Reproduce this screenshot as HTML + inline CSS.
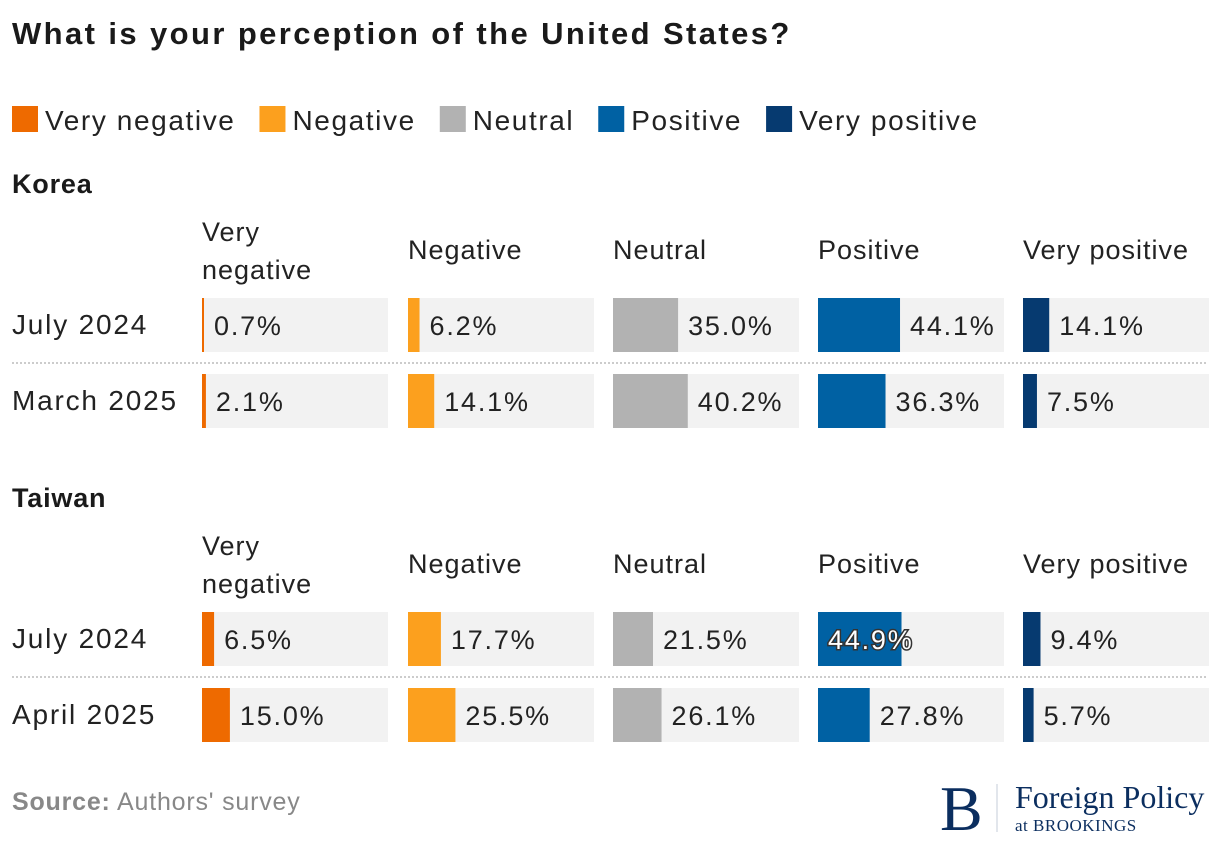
<!DOCTYPE html>
<html><head><meta charset="utf-8"><style>
body{margin:0;background:#fff;}
svg{display:block;font-family:"Liberation Sans",sans-serif;}
</style></head><body>
<svg id="chart" width="1220" height="842" viewBox="0 0 1220 842">
<text x="12" y="44" font-size="31" font-weight="bold" letter-spacing="2.4" fill="#1a1a1a">What is your perception of the United States?</text>
<g id="legend"></g>
<g id="plot"></g>
<text x="12" y="810" font-size="25" letter-spacing="0.8" fill="#888"><tspan font-weight="bold">Source:</tspan> Authors' survey</text>
<g>
<text x="940" y="830" font-family="Liberation Serif,serif" font-size="64" fill="#0b2e5f">B</text>
<line x1="997" y1="784" x2="997" y2="832" stroke="#c5ccd8" stroke-width="1"/>
<text x="1015" y="808" font-family="Liberation Serif,serif" font-size="32" fill="#0b2e5f">Foreign Policy</text>
<text x="1015" y="831" font-family="Liberation Serif,serif" font-size="17" letter-spacing="0.5" fill="#0b2e5f">at BROOKINGS</text>
</g>
</svg>
<script>
const categories=["Very negative","Negative","Neutral","Positive","Very positive"];
const colors=["#ee6a00","#fca01e","#b2b2b2","#0061a3","#063a70"];
const koreaRows=["July 2024","March 2025"];
const koreaValues=[[0.7,6.2,35.0,44.1,14.1],[2.1,14.1,40.2,36.3,7.5]];
const taiwanRows=["July 2024","April 2025"];
const taiwanValues=[[6.5,17.7,21.5,44.9,9.4],[15.0,25.5,26.1,27.8,5.7]];

const NS="http://www.w3.org/2000/svg";
const plot=document.getElementById('plot');
const legend=document.getElementById('legend');
function mk(tag,attrs,parent){const e=document.createElementNS(NS,tag);for(const k in attrs)e.setAttribute(k,attrs[k]);(parent||plot).appendChild(e);return e;}
const colX=[202,408,613,818,1023],colW=186;
const x=v=>Math.max(2,v/100*colW);

let lx=12;
categories.forEach((c,i)=>{
  const r=mk('rect',{x:lx,y:106,width:26,height:26,fill:colors[i]},legend);
  
  
  const t=mk('text',{x:lx+33,y:130,'font-size':28,'letter-spacing':1.6,fill:'#222'},legend);
  t.textContent=c;
  
  
  lx+=33+t.getComputedTextLength()+24;
});

function section(name,titleY,rows,vals){
  const h=mk('text',{x:12,y:titleY,'font-size':27,'font-weight':'bold','letter-spacing':0.8,fill:'#1a1a1a'});
  h.textContent=name;
  
  
  categories.forEach((c,i)=>{
    const parts=c==="Very negative"?["Very","negative"]:[c];
    parts.forEach((p,j)=>{
      const t=mk('text',{x:colX[i],y:(parts.length>1?titleY+48+j*38:titleY+66),'font-size':27,'letter-spacing':1,fill:'#222'});
      t.textContent=p;
      
      
    });
  });
  rows.forEach((r,ri)=>{
    const y0=titleY+105+ri*76;
    const lab=mk('text',{x:12,y:y0+36,'font-size':28,'letter-spacing':1.8,fill:'#222'});
    lab.textContent=r;
    
    
    if(ri<rows.length-1){
      const l=mk('line',{x1:12,x2:1208,y1:y0+65,y2:y0+65,stroke:'#ccc','stroke-width':2,'stroke-dasharray':'2,2'});
      
      
    }
    vals[ri].forEach((v,ci)=>{
      const bg=mk('rect',{x:colX[ci],y:y0,width:colW,height:54,fill:'#f2f2f2'});
      
      
      const w=x(v);
      const b=mk('rect',{x:colX[ci],y:y0,width:w,height:54,fill:colors[ci]});
      
      
      const t=mk('text',{x:colX[ci]+w+10,y:y0+37,'font-size':27,'letter-spacing':1.8,fill:'#222'});
      t.textContent=v.toFixed(1)+'%';
      
      
      if(w+10+87>colW-6){
        t.setAttribute('x',colX[ci]+10);
        t.setAttribute('fill','#fff');
        t.setAttribute('stroke','#333');
        t.setAttribute('stroke-width','3');
        t.setAttribute('paint-order','stroke');
      }
    });
  });
}
section("Korea",193,koreaRows,koreaValues);
section("Taiwan",507,taiwanRows,taiwanValues);
</script>
</body></html>
